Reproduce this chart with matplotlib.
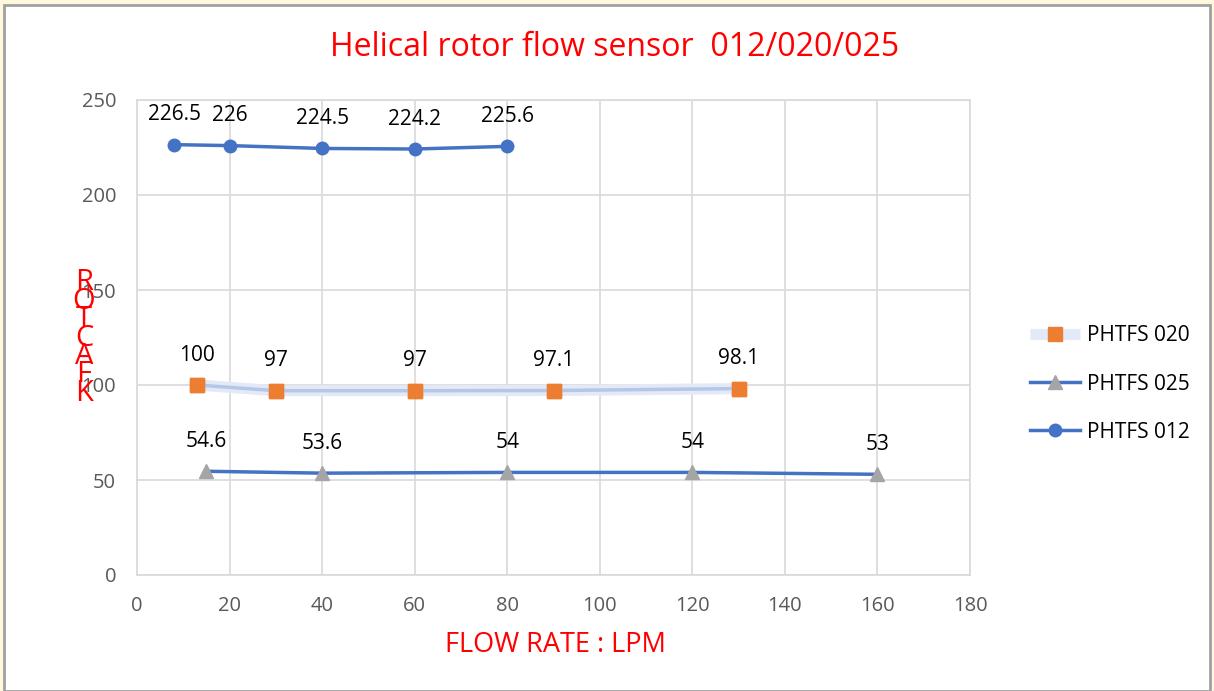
import matplotlib
matplotlib.use("Agg")
import matplotlib.pyplot as plt
from matplotlib.patches import Rectangle

plt.rcParams['font.family'] = ['Open Sans', 'DejaVu Sans']

# PHTFS 012
x_012 = [8, 20, 40, 60, 80]
y_012 = [226.5, 226, 224.5, 224.2, 225.6]
# PHTFS 020
x_020 = [13, 30, 60, 90, 130]
y_020 = [100, 97, 97, 97.1, 98.1]
# PHTFS 025
x_025 = [15, 40, 80, 120, 160]
y_025 = [54.6, 53.6, 54, 54, 53]

x_ticks = [0, 20, 40, 60, 80, 100, 120, 140, 160, 180]
y_ticks = [0, 50, 100, 150, 200, 250]

blue = '#4472c4'
orange = '#ed7d31'
grey = '#a5a5a5'
grid_c = '#d9d9d9'

fig = plt.figure(figsize=(12.14, 6.91), dpi=100, facecolor='#fff8dc')
fig.patches.append(Rectangle((4 / 1214, 0), 1 - 8 / 1214, 1 - 5 / 691,
                             transform=fig.transFigure, facecolor='white',
                             edgecolor='#a0a0a0', linewidth=2, zorder=-5))

ax = fig.add_axes([137 / 1214, 1 - 575 / 691, (970 - 137) / 1214, (575 - 100) / 691])
ax.set_facecolor('white')

# 020: pale wide band with orange squares
l020, = ax.plot(x_020, y_020, color='#e3e9f6', linewidth=8, solid_capstyle='butt',
                marker='s', markersize=10, markerfacecolor=orange,
                markeredgecolor=orange, zorder=3, label='PHTFS 020')
ax.plot(x_020, y_020, color='#b4c7e7', linewidth=2.5, zorder=3)
ax.plot(x_020, y_020, linestyle='none', marker='s', markersize=10,
        color=orange, zorder=4)

l025, = ax.plot(x_025, y_025, color=blue, linewidth=2.5, marker='^',
                markersize=10, markerfacecolor=grey, markeredgecolor=grey,
                zorder=3, label='PHTFS 025')
l012, = ax.plot(x_012, y_012, color=blue, linewidth=2.5, marker='o',
                markersize=9, markerfacecolor=blue, markeredgecolor=blue,
                zorder=3, label='PHTFS 012')

for xs, ys in [(x_012, y_012), (x_020, y_020), (x_025, y_025)]:
    for xv, yv in zip(xs, ys):
        ax.annotate(f"{yv:g}", (xv, yv), xytext=(0, 14), textcoords='offset points',
                    ha='center', va='bottom', fontsize=15, color='black')

ax.set_xlim(0, 180)
ax.set_ylim(0, 250)
ax.set_xticks(x_ticks)
ax.set_yticks(y_ticks)
ax.grid(True, color=grid_c, linewidth=1.2, zorder=0)
ax.set_axisbelow(True)
for s in ax.spines.values():
    s.set_color(grid_c)
    s.set_linewidth(1.2)
ax.tick_params(length=0, labelsize=14.5, colors='#595959')
ax.tick_params(axis='y', pad=15)
ax.tick_params(axis='x', pad=15)

fig.text(615 / 1214, 1 - 48 / 691, 'Helical rotor flow sensor  012/020/025',
         ha='center', va='center', fontsize=23, color='red')
fig.text(555 / 1214, 1 - 645 / 691, 'FLOW RATE : LPM', ha='center', va='center',
         fontsize=19.5, color='red')
fig.text(84 / 1214, 1 - 338 / 691, '\n'.join('ROTCAFK'), ha='center', va='center',
         fontsize=21, color='red', linespacing=0.52)

ax.legend(handles=[l020, l025, l012], loc='center left',
          bbox_to_anchor=((1022 - 137) / 833, (575 - 384) / 475), frameon=False,
          fontsize=15, handlelength=2.4, labelspacing=1.3, handletextpad=0.3,
          borderaxespad=0)

fig.savefig('out.png', dpi=100, facecolor=fig.get_facecolor())
